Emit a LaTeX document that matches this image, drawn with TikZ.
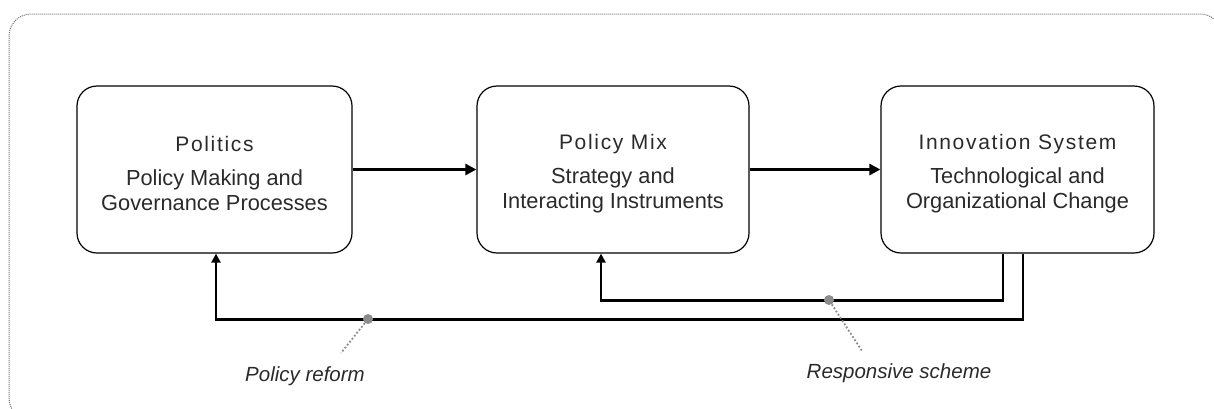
\documentclass[tikz,border=0pt]{standalone}
\usepackage{fontspec}
\setmainfont{Liberation Sans}
\newfontfamily\titlefont[LetterSpace=8]{Liberation Sans}
\usetikzlibrary{arrows.meta}
\definecolor{inkgray}{HTML}{2A2A2A}
\definecolor{dotgray}{HTML}{8C8C8C}
% stage heading: spaced-out title with a strut that lowers the text block a little
\newcommand{\stagetitle}[1]{\rule{0pt}{24pt}{\fontsize{21}{25}\selectfont\titlefont #1}}
\begin{document}
\begin{tikzpicture}[x=1pt,y=-1pt,
  stage/.style={draw=black, line width=1.2pt, rounded corners=20pt,
    minimum height=167pt, align=center, text=inkgray,
    font=\fontsize{21.8}{25}\selectfont, inner sep=0pt},
  flow/.style={line width=3.6pt, -{Triangle[length=11pt,width=11pt]}},
  fb/.style={line width=2.4pt, -{Triangle[length=9pt,width=9pt]}},
  tag/.style={circle, fill=dotgray, inner sep=0pt, minimum size=10pt},
  lead/.style={dotgray, line width=1.8pt, dotted},
  caption/.style={text=inkgray, font=\fontsize{20.5}{24}\selectfont\itshape, inner sep=0pt}
]
\useasboundingbox (0,0) rectangle (1214,408);
\clip (0,0) rectangle (1214,408);

% outer frame
\draw[dotgray!80!black, line width=1pt, densely dotted, rounded corners=22pt]
  (9,14) rectangle (1222,420);

% stages
\node[stage, minimum width=275pt] (pol) at (214.5,169.5)
  {\stagetitle{Politics}\\[9pt]Policy Making and\\Governance Processes};
\node[stage, minimum width=272pt] (mix) at (613,169.5)
  {\stagetitle{Policy Mix}\\[9pt]Strategy and\\Interacting Instruments};
\node[stage, minimum width=273pt] (inn) at (1017.5,169.5)
  {\stagetitle{Innovation System}\\[9pt]Technological and\\Organizational Change};

% forward flow
\draw[flow] (pol) -- (mix);
\draw[flow] (mix) -- (inn);

% feedback loops
\draw[fb] ([xshift=-14.5pt]inn.south) -- ++(0,47) -| ([xshift=-12pt]mix.south);
\draw[fb] ([xshift=5.5pt]inn.south) -- ++(0,66) -| ([xshift=1.5pt]pol.south);

% loop labels
\node[tag] (t1) at (368,319) {};
\node[tag] (t2) at (829,300) {};
\coordinate (e1) at (341,353);
\coordinate (e2) at (862,351);
\draw[lead] (t1) -- (e1);
\draw[lead] (t2) -- (e2);
\node[caption] (c1) at (305,376) {Policy reform};
\node[caption] (c2) at (899,373) {Responsive scheme};
\end{tikzpicture}
\end{document}
